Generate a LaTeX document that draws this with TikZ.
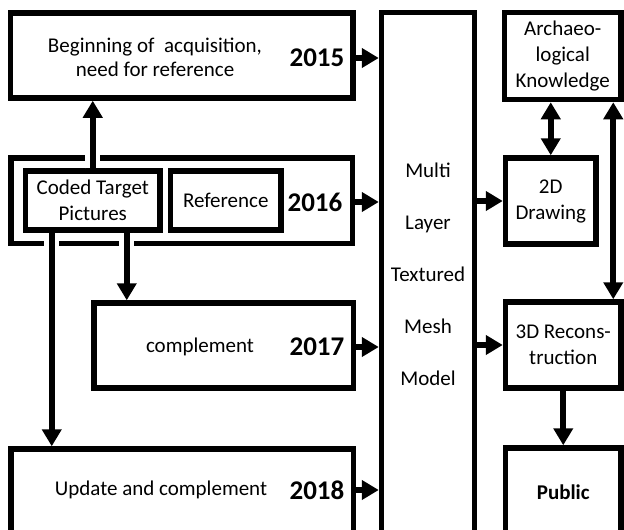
\documentclass[tikz,border=0pt]{standalone}
\usepackage{fontspec}
\setmainfont{Carlito}
\usetikzlibrary{arrows.meta,calc,positioning}
\tikzset{box/.style={draw, line width=5.5pt, align=center, inner sep=0pt, font=\fontsize{21}{26}\selectfont}}
\tikzset{year/.style={anchor=east, inner sep=0pt, font=\fontsize{27}{30}\selectfont\bfseries}}
\tikzset{txt/.style={align=center, inner sep=0pt, font=\fontsize{21}{24}\selectfont}}
\tikzstyle{arrow} = [line width=6pt, -{Triangle[length=17pt,width=19pt]}]
\tikzstyle{dblarrow} = [line width=6pt, {Triangle[length=17pt,width=19pt]}-{Triangle[length=17pt,width=19pt]}]
\tikzstyle{halo} = [preaction={draw=white, line width=15pt, -}]

\begin{document}
\begin{tikzpicture}[x=1pt, y=-1pt]
	\useasboundingbox (0,0) rectangle (624,530);
	\clip (0,0) rectangle (624,530);
	% Nodes
		\node (b15) [box, minimum width=342.5, minimum height=85] at (181.75,55.5) {};
		\node (t15) [txt] at (155,57) {Beginning of~ acquisition,\\need for reference};
		\node (y15) [year] at (344.5,58) {2015};

		\node (b16) [box, minimum width=341.5, minimum height=85.5] at (181.75,200.75) {};
		\node (coded) [box, minimum width=134.5, minimum height=59] at (92.75,200.5) {Coded Target\\Pictures};
		\node (ref) [box, minimum width=110.5, minimum height=59] at (225.75,200.5) {Reference};
		\node (y16) [year] at (342.5,202) {2016};

		\node (b17) [box, minimum width=259.5, minimum height=85] at (223.75,345.5) {};
		\node (t17) [txt] at (200,347) {complement};
		\node (y17) [year] at (344.5,347) {2017};

		\node (b18) [box, minimum width=342.5, minimum height=90] at (182.25,494) {};
		\node (t18) [txt] at (161,490) {Update and complement};
		\node (y18) [year] at (344.5,490) {2018};

		\node (mltm) [box, minimum width=93, minimum height=523, font=\fontsize{21}{52}\selectfont] at (428,274) {Multi\\Layer\\Textured\\Mesh\\Model};

		\node (arch) [box, minimum width=116.5, minimum height=87] at (562.75,56) {Archaeo-\\logical\\Knowledge};
		\node (d2) [box, minimum width=90.5, minimum height=86] at (550.75,201) {2D\\Drawing};
		\node (recon) [box, minimum width=115.5, minimum height=86] at (563.25,345) {3D Recons-\\truction};
		\node (public) [box, minimum width=115.5, minimum height=88] at (563.25,492) {\bfseries Public};

		\coordinate (c17) at ([xshift=34pt]coded.south);
		\coordinate (c18) at ([xshift=-41pt]coded.south);
		\coordinate (kr) at ([xshift=-10.5pt]recon.north east);

		% Connectors
		\draw [arrow] (b15.east |- y15) -- (mltm.west |- y15);
		\draw [arrow] (b16.east |- y16) -- (mltm.west |- y16);
		\draw [arrow] (b17.east |- y17) -- (mltm.west |- y17);
		\draw [arrow] (b18.east |- y18) -- (mltm.west |- y18);
		\draw [arrow] (mltm.east |- d2) -- (d2.west);
		\draw [arrow] (mltm.east |- recon) -- (recon.west);
		\draw [arrow, halo] (coded.north) -- (coded.north |- b15.south);
		\draw [arrow, halo] (c17) -- (c17 |- b17.north);
		\draw [arrow, halo] (c18) -- (c18 |- b18.north);
		\draw [dblarrow] (d2.north |- arch.south) -- (d2.north);
		\draw [dblarrow] (kr |- arch.south) -- (kr);
		\draw [arrow] (recon.south) -- (public.north);
\end{tikzpicture}
\end{document}
